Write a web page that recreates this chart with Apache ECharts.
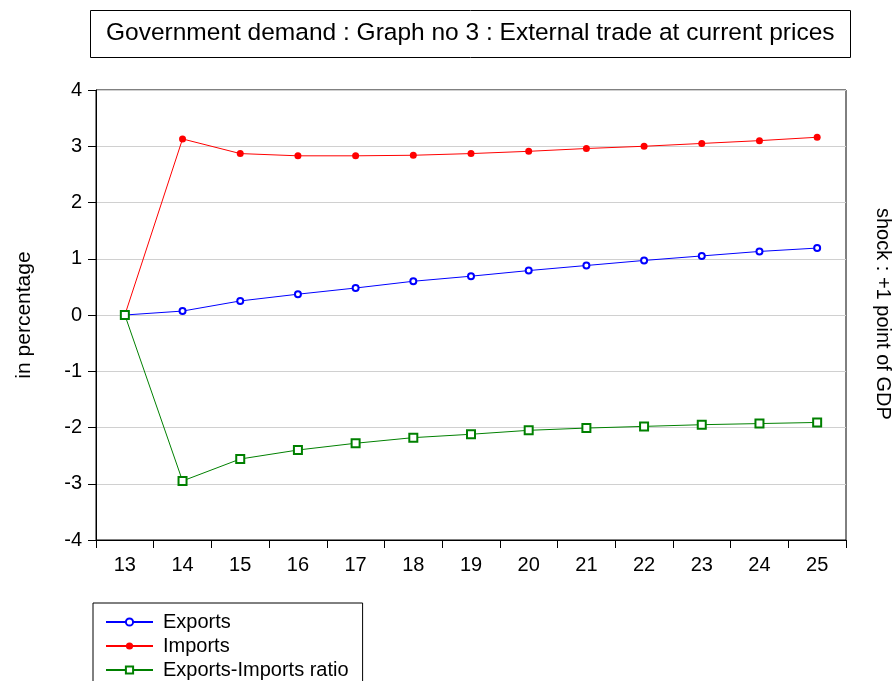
<!DOCTYPE html>
<html><head><meta charset="utf-8">
<script src="https://cdn.jsdelivr.net/npm/echarts@6/dist/echarts.min.js"></script>
<style>html,body{margin:0;padding:0;background:#fff}#c{width:896px;height:681px}</style>
</head><body><div id="c"></div>
<script>
const categories = ['13','14','15','16','17','18','19','20','21','22','23','24','25'];
const exportsVals = [0, 0.07, 0.25, 0.37, 0.48, 0.60, 0.69, 0.79, 0.88, 0.97, 1.05, 1.13, 1.19];
const importsVals = [0, 3.13, 2.87, 2.83, 2.83, 2.84, 2.87, 2.91, 2.96, 3.00, 3.05, 3.10, 3.16];
const ratioVals = [0, -2.95, -2.56, -2.40, -2.28, -2.18, -2.12, -2.05, -2.01, -1.98, -1.95, -1.93, -1.91];
const FONT = 'Liberation Sans';
const chart = echarts.init(document.getElementById('c'));
chart.setOption({
  animation: false,
  textStyle: {fontFamily: FONT},
  title: {
    text: 'Government demand : Graph no 3 : External trade at current prices',
    left: 90, top: 10,
    borderColor: '#000', borderWidth: 1,
    padding: [11, 16, 12, 16],
    textStyle: {fontFamily: FONT, fontSize: 24.5, fontWeight: 'normal', color: '#000'}
  },
  grid: {left: 96, right: 50, top: 90, bottom: 141, show: true, borderColor: '#000', borderWidth: 1, containLabel: false},
  xAxis: {
    type: 'category', data: categories, boundaryGap: true,
    axisLine: {onZero: false, lineStyle: {color: '#000', width: 1}},
    axisTick: {show: true, inside: false, length: 8, lineStyle: {color: '#000'}},
    axisLabel: {color: '#000', fontSize: 20, fontFamily: FONT, margin: 15},
    splitLine: {show: false}
  },
  yAxis: {
    type: 'value', min: -4, max: 4, interval: 1,
    name: 'in percentage', nameLocation: 'middle', nameGap: 61, nameRotate: 90,
    nameTextStyle: {color: '#000', fontSize: 21, fontFamily: FONT},
    axisLine: {show: true, lineStyle: {color: '#000', width: 1}},
    axisTick: {show: true, inside: false, length: 8, lineStyle: {color: '#000'}},
    axisLabel: {color: '#000', fontSize: 20, fontFamily: FONT, margin: 14},
    splitLine: {show: true, lineStyle: {color: '#d0d0d0', width: 1}}
  },
  legend: {
    orient: 'vertical', left: 93, top: 603, width: 260, height: 120,
    borderColor: '#000', borderWidth: 1,
    padding: [9, 14, 30, 12],
    itemWidth: 47, itemHeight: 9, itemGap: 4,
    textStyle: {color: '#000', fontSize: 20, fontFamily: FONT, lineHeight: 20, padding: [0, 0, 0, 5]},
    data: ['Exports', 'Imports', 'Exports-Imports ratio']
  },
  graphic: [{
    type: 'text', left: 873, top: 208, rotation: -Math.PI / 2,
    style: {text: 'shock : +1 point of GDP', fill: '#000', font: '20px "Liberation Sans"'}
  }],
  series: [
    {name: 'Exports', type: 'line', data: exportsVals, symbol: 'emptyCircle', symbolSize: 6,
      lineStyle: {color: '#0000ff', width: 1}, itemStyle: {color: '#0000ff', borderColor: '#0000ff', borderWidth: 1.2}},
    {name: 'Imports', type: 'line', data: importsVals, symbol: 'circle', symbolSize: 7,
      lineStyle: {color: '#ff0000', width: 1}, itemStyle: {color: '#ff0000'}},
    {name: 'Exports-Imports ratio', type: 'line', data: ratioVals, symbol: 'emptyRect', symbolSize: 8,
      lineStyle: {color: '#008000', width: 1}, itemStyle: {color: '#008000', borderColor: '#008000', borderWidth: 1.2}}
  ]
});
</script></body></html>
